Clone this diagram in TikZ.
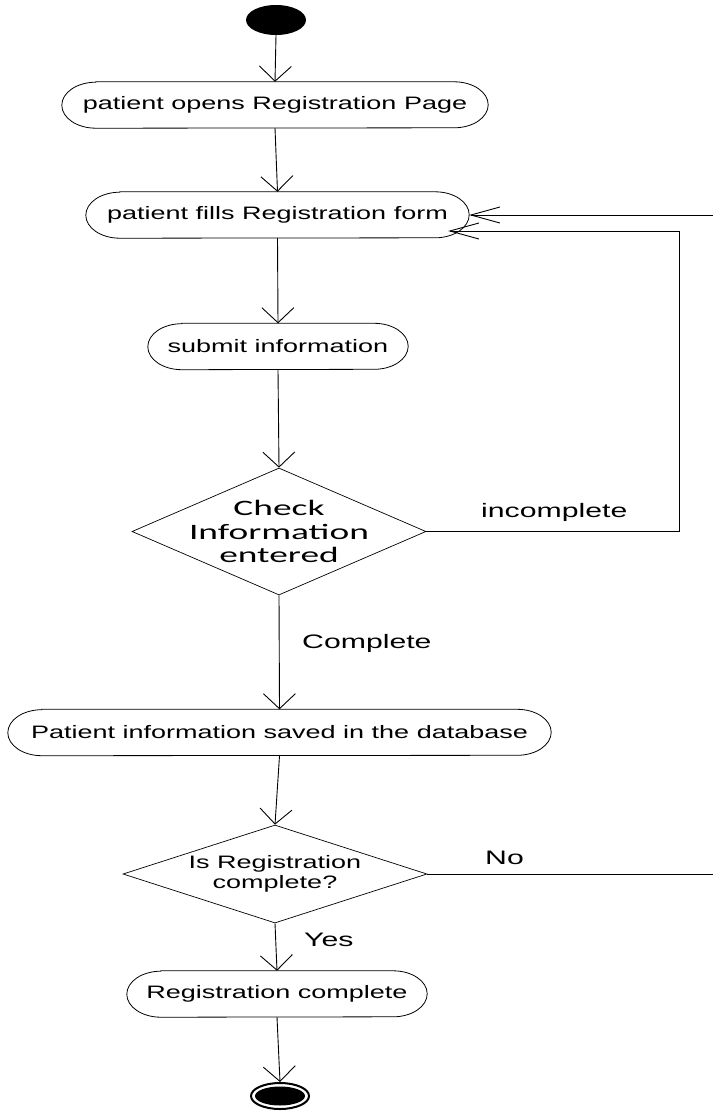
\documentclass[tikz,border=0pt]{standalone}
\usepackage{fontspec}
\usetikzlibrary{arrows.meta,shapes.geometric,calc}
\newfontfamily\boxfont[FakeStretch=1.5]{Liberation Sans}
\newfontfamily\lblfont[FakeStretch=1.55]{Liberation Sans}
\newfontfamily\chkfont[FakeStretch=1.7]{Carlito}

\tikzset{
  flow/.style={line width=0.9pt, draw=black},
  vtip/.style={-{Straight Barb[length=15pt,width=32pt]}},
  htip/.style={-{Straight Barb[length=29pt,width=16pt]}},
  action/.style={rectangle, minimum height=46pt, inner sep=0pt,
    font=\boxfont\fontsize{18}{20}\selectfont},
  outline/.style={line width=0.8pt},
  decision/.style={diamond, draw, line width=0.7pt, inner sep=0pt},
  guard/.style={font=\lblfont\fontsize{19.5}{22}\selectfont, inner sep=0pt, anchor=base west},
}
% rounded action outline with elliptical ends, drawn around a named node
\newcommand\actionoutline[1]{%
  \draw[outline] ([xshift=34pt]#1.north west) -- ([xshift=-34pt]#1.north east)
    arc[start angle=90,end angle=-90,x radius=34pt,y radius=23pt]
    -- ([xshift=34pt]#1.south west)
    arc[start angle=270,end angle=90,x radius=34pt,y radius=23pt] -- cycle;}

\begin{document}
\begin{tikzpicture}[x=1pt,y=-1pt]
\useasboundingbox (0,0) rectangle (713,1111);

% initial node
\node[ellipse, fill=black, minimum width=60pt, minimum height=30pt, inner sep=0pt] (start) at (276,20) {};

% actions
\node[action, minimum width=426pt] (open) at (275,105) {patient opens Registration Page};
\node[action, minimum width=383pt] (fillform) at (277.5,215) {patient fills Registration form};
\node[action, minimum width=260pt] (submit) at (278,346.5) {submit information};
\node[action, minimum width=543pt] (save) at (279.5,732.5) {Patient information saved in the database};
\node[action, minimum width=300pt] (finish) at (277,994) {Registration complete};
\actionoutline{open}
\actionoutline{fillform}
\actionoutline{submit}
\actionoutline{save}
\actionoutline{finish}

% decisions
\node[decision, minimum width=294pt, minimum height=127pt] (check) at (279,531.5) {};
\node[font=\chkfont\fontsize{22}{23.5}\selectfont, align=center, inner sep=0pt] (checktext) at (check) {Check\\Information\\entered};
\node[decision, minimum width=304pt, minimum height=98pt] (done) at (275,874) {};
\node[font=\boxfont\fontsize{18}{19.5}\selectfont, align=center, inner sep=0pt] (donetext) at (done) {Is Registration\\complete?};

% final node
\node[ellipse, draw, line width=2pt, minimum width=58pt, minimum height=26pt, inner sep=0pt] (stop) at (280,1096) {};
\node[ellipse, fill=black, minimum width=50pt, minimum height=19pt, inner sep=0pt] (stopdot) at (stop) {};

% guard labels
\node[guard] (lblinc) at (481,517) {incomplete};
\node[guard] (lblcomp) at (302,648) {Complete};
\node[guard] (lblno) at (485,864) {No};
\node[guard] (lblyes) at (304,946) {Yes};

% main flow
\draw[flow,vtip] (start.south) -- (open.north);
\draw[flow,vtip] (open.south) -- (fillform.north);
\draw[flow,vtip] (fillform.south) -- (submit.north);
\draw[flow,vtip] (submit.south) -- (check.north);
\draw[flow,vtip] (check.south) -- (save.north);
\draw[flow,vtip] (save.south) -- (done.north);
\draw[flow,vtip] (done.south) -- (finish.north);
\draw[flow,vtip] (finish.south) -- (stop.north);

% incomplete loop back to the form
\coordinate (loopin) at ([xshift=-21pt,yshift=-16pt]fillform.east);
\draw[flow,htip] (check.east) -- ++(253,0) |- (loopin);

% "No" branch leaving to the right, and its return into the form
\coordinate (noout) at (713,874);
\coordinate (backin) at (713,215);
\draw[flow] (done.east) -- (noout);
\draw[flow,htip] (backin) -- (fillform.east);
\end{tikzpicture}
\end{document}
